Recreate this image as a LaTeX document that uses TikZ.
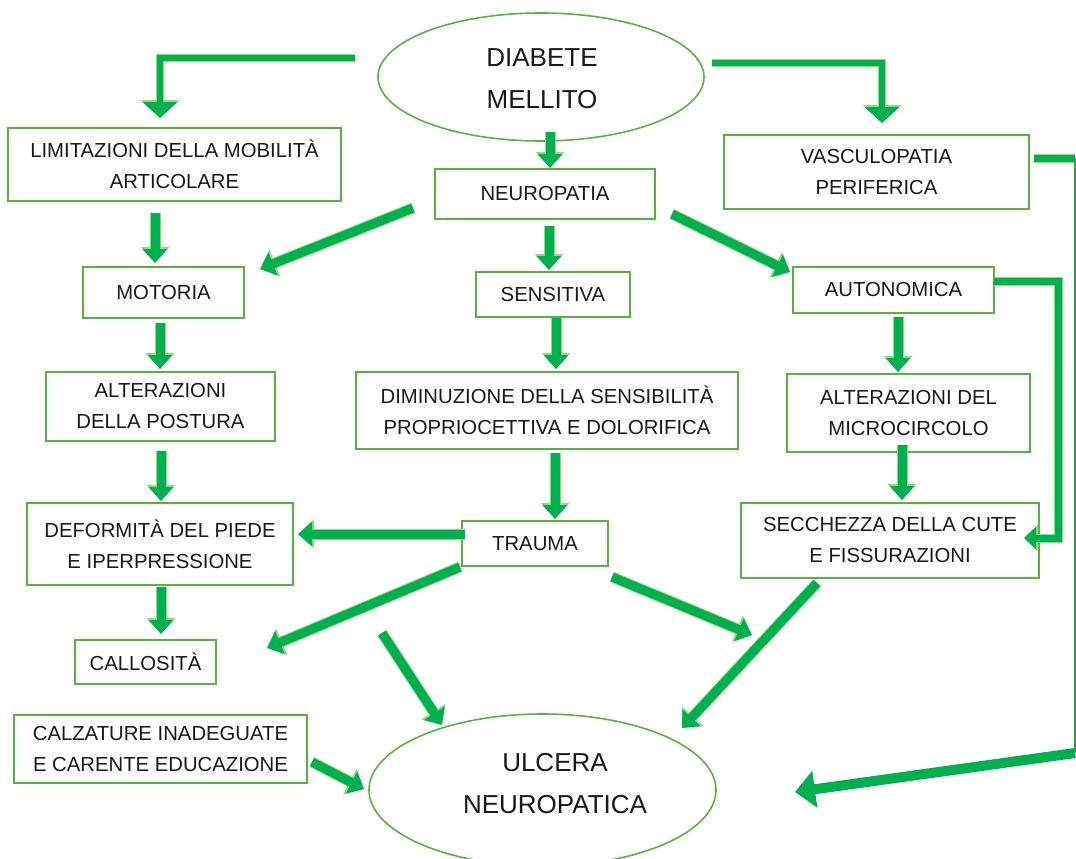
\documentclass[tikz,border=0pt]{standalone}
\usepackage{fontspec}
\setmainfont{Liberation Sans}
\usetikzlibrary{arrows.meta,shapes.geometric}
\definecolor{agreen}{RGB}{0,176,80}
\definecolor{bgreen}{RGB}{88,178,64}
\definecolor{glow}{RGB}{150,218,120}
\definecolor{ink}{RGB}{24,24,24}
\begin{document}
\begin{tikzpicture}[x=1pt,y=-1pt,
  box/.style={draw=bgreen,line width=2pt,rectangle,inner sep=0pt,align=center,text=ink,
    font=\fontsize{20.3}{31}\selectfont},
  oval/.style={draw=bgreen,line width=1.6pt,ellipse,inner sep=0pt,align=center,text=ink,
    font=\fontsize{26}{42}\selectfont},
  bigtext/.style={inner sep=0pt,align=center,text=ink,font=\fontsize{26}{42}\selectfont},
  flow/.style={draw=agreen,line width=9pt,-{Triangle[width=24pt,length=14pt]},
    preaction={draw=glow,line width=11pt,-{Triangle[width=28pt,length=16pt]}}},
  elbow/.style={draw=agreen,line width=6pt,line join=miter,-{Triangle[width=34pt,length=16pt]},
    preaction={draw=glow,line width=8pt,-{Triangle[width=38pt,length=18pt]}}},
  sideline/.style={draw=agreen,line width=7pt,line join=miter,-{Triangle[width=22pt,length=12pt]},
    preaction={draw=glow,line width=9pt,-{Triangle[width=26pt,length=14pt]}}},
  thinline/.style={draw=agreen!80!bgreen,line width=1.4pt},
  bigflow/.style={draw=agreen,line width=10pt,-{Triangle[width=36pt,length=20pt]}}
]
\useasboundingbox (0,0) rectangle (1076,859);

% nodes
\node[oval,minimum width=326pt,minimum height=128pt] (diab) at (541,77) {};
\node[bigtext] (diabtext) at (542,79) {DIABETE\\MELLITO};
\node[box,minimum width=333pt,minimum height=73pt] (lim) at (174.5,164.5) {LIMITAZIONI DELLA MOBILITÀ\\ARTICOLARE};
\node[box,minimum width=220pt,minimum height=50pt] (neuro) at (545,194) {NEUROPATIA};
\node[box,minimum width=305pt,minimum height=74pt] (vasc) at (876.5,172) {VASCULOPATIA\\PERIFERICA};
\node[box,minimum width=161pt,minimum height=51pt] (mot) at (163.5,292.5) {MOTORIA};
\node[box,minimum width=154pt,minimum height=45pt] (sens) at (553,294.5) {SENSITIVA};
\node[box,minimum width=201pt,minimum height=46pt] (auto) at (893.5,290) {AUTONOMICA};
\node[box,minimum width=229pt,minimum height=69pt] (post) at (160.5,406.5) {ALTERAZIONI\\DELLA POSTURA};
\node[box,minimum width=382pt,minimum height=77pt] (dimin) at (547,410.5) {DIMINUZIONE DELLA SENSIBILITÀ\\PROPRIOCETTIVA E DOLORIFICA};
\node[box,minimum width=243pt,minimum height=78pt] (micro) at (908.5,413) {ALTERAZIONI DEL\\MICROCIRCOLO};
\node[box,minimum width=266pt,minimum height=82pt] (deform) at (160,544) {DEFORMITÀ DEL PIEDE\\E IPERPRESSIONE};
\node[box,minimum width=146pt,minimum height=45pt] (trauma) at (535,543.5) {TRAUMA};
\node[box,minimum width=298pt,minimum height=75pt] (secch) at (890,540.5) {SECCHEZZA DELLA CUTE\\E FISSURAZIONI};
\node[box,minimum width=141pt,minimum height=44pt] (call) at (145.5,662) {CALLOSITÀ};
\node[box,minimum width=293pt,minimum height=68pt] (calz) at (160.5,749) {CALZATURE INADEGUATE\\E CARENTE EDUCAZIONE};
\node[oval,minimum width=347pt,minimum height=152pt] (ulc) at (542.5,790) {};
\node[bigtext] (ulctext) at (555,784) {ULCERA\\NEUROPATICA};

% connector end points
\coordinate (a1s) at (355,58);  \coordinate (a1m) at (160,58);  \coordinate (a1e) at (160,118);
\coordinate (a2s) at (712,63);  \coordinate (a2m) at (882,63);  \coordinate (a2e) at (882,123);
\coordinate (a3s) at (550,132); \coordinate (a3e) at (550,168);
\coordinate (a4s) at (155,213); \coordinate (a4e) at (155,263);
\coordinate (a5s) at (413,208); \coordinate (a5e) at (260,269);
\coordinate (a6s) at (549,226); \coordinate (a6e) at (549,270);
\coordinate (a7s) at (672,214); \coordinate (a7e) at (790,272);
\coordinate (a8s) at (160,323); \coordinate (a8e) at (160,369);
\coordinate (a9s) at (556,318); \coordinate (a9e) at (556,369);
\coordinate (a10s) at (898,317); \coordinate (a10e) at (898,372);
\coordinate (a11s) at (994,281); \coordinate (a11m) at (1058,281); \coordinate (a11n) at (1058,538); \coordinate (a11e) at (1024,538);
\coordinate (a12s) at (161,451); \coordinate (a12e) at (161,501);
\coordinate (a13s) at (555,453); \coordinate (a13e) at (555,519);
\coordinate (a14s) at (902,445); \coordinate (a14e) at (902,500);
\coordinate (a15s) at (465,534); \coordinate (a15e) at (298,534);
\coordinate (a16s) at (161,587); \coordinate (a16e) at (161,634);
\coordinate (a17s) at (460,567); \coordinate (a17e) at (267,648);
\coordinate (a18s) at (382,633); \coordinate (a18e) at (442,725);
\coordinate (a19s) at (612,577); \coordinate (a19e) at (752,635);
\coordinate (a20s) at (817,583); \coordinate (a20e) at (682,728);
\coordinate (a21s) at (312,762); \coordinate (a21e) at (364,789);
\coordinate (a22s) at (1034,158); \coordinate (a22m) at (1075,158); \coordinate (a22n) at (1075,753); \coordinate (a22e) at (795,792);

% connectors
\draw[elbow] (a1s) -- (a1m) -- (a1e);
\draw[elbow] (a2s) -- (a2m) -- (a2e);
\draw[flow] (a3s) -- (a3e);
\draw[flow] (a4s) -- (a4e);
\draw[flow] (a5s) -- (a5e);
\draw[flow] (a6s) -- (a6e);
\draw[flow] (a7s) -- (a7e);
\draw[flow] (a8s) -- (a8e);
\draw[flow] (a9s) -- (a9e);
\draw[flow] (a10s) -- (a10e);
\draw[sideline] (a11s) -- (a11m) -- (a11n) -- (a11e);
\draw[flow] (a12s) -- (a12e);
\draw[flow] (a13s) -- (a13e);
\draw[flow] (a14s) -- (a14e);
\draw[flow] (a15s) -- (a15e);
\draw[flow] (a16s) -- (a16e);
\draw[flow] (a17s) -- (a17e);
\draw[flow] (a18s) -- (a18e);
\draw[flow] (a19s) -- (a19e);
\draw[flow] (a20s) -- (a20e);
\draw[flow] (a21s) -- (a21e);
\draw[draw=agreen,line width=7pt,preaction={draw=glow,line width=9pt}] (a22s) -- (a22m);
\draw[thinline] (a22m) -- (a22n);
\draw[bigflow] (a22n) -- (a22e);
\end{tikzpicture}
\end{document}
